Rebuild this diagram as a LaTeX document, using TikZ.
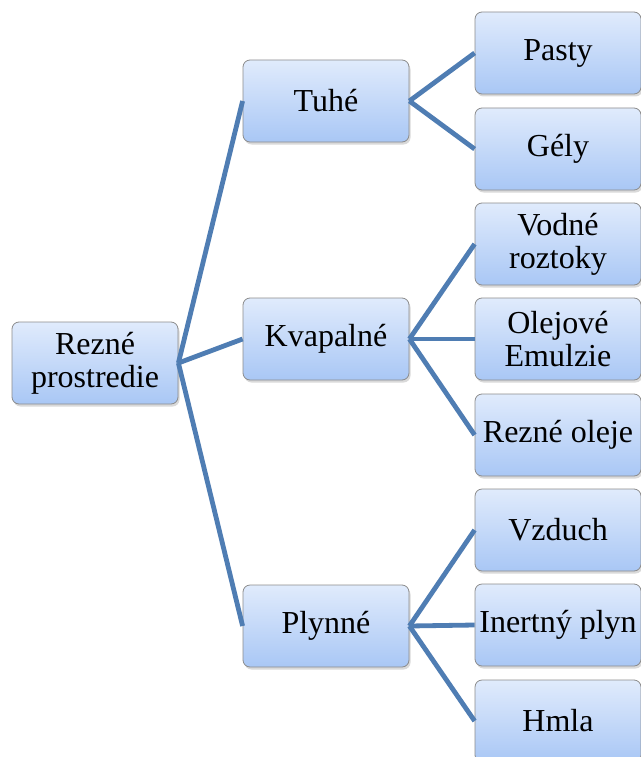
\documentclass[tikz,border=0pt]{standalone}
\usepackage{fontspec}
\setmainfont{Liberation Serif}
\usetikzlibrary{shadows}
\definecolor{boxtop}{HTML}{E0EBFC}
\definecolor{boxbot}{HTML}{A9C7F5}
\definecolor{boxline}{HTML}{8C8C8C}
\definecolor{linkblue}{HTML}{4F7DB3}
\begin{document}
\begin{tikzpicture}[x=1pt, y=-1pt,
  box/.style = {draw=boxline, line width=0.8pt, rounded corners=7pt,
    top color=boxtop, bottom color=boxbot, minimum width=166pt,
    minimum height=82pt, inner sep=2pt, align=center,
    font=\fontsize{32}{33}\selectfont,
    drop shadow={opacity=0.3, shadow xshift=1.5pt, shadow yshift=-2.5pt}},
  link/.style = {draw=linkblue, line width=4.8pt}]
    \useasboundingbox (0,0) rectangle (640,757);
    % root and middle level
    \node[box] (root) at (95,363)  {Rezné\\prostredie};
    \node[box] (tuhe) at (326,101) {Tuhé};
    \node[box] (kvap) at (326,339) {Kvapalné};
    \node[box] (plyn) at (326,626) {Plynné};
    % leaves
    \node[box] (pasty)  at (558,53)  {Pasty};
    \node[box] (gely)   at (558,149) {Gély};
    \node[box] (vodne)  at (558,244) {Vodné\\roztoky};
    \node[box] (olej)   at (558,339) {Olejové\\Emulzie};
    \node[box] (rezne)  at (558,435) {Rezné oleje};
    \node[box] (vzduch) at (558,530) {Vzduch};
    \node[box] (inert)  at (558,625) {Inertný plyn};
    \node[box] (hmla)   at (558,721) {Hmla};

    \foreach \m in {tuhe, kvap, plyn}
        \draw[link] (root.east) -- (\m.west);
    \foreach \l in {pasty, gely}
        \draw[link] (tuhe.east) -- (\l.west);
    \foreach \l in {vodne, olej, rezne}
        \draw[link] (kvap.east) -- (\l.west);
    \foreach \l in {vzduch, inert, hmla}
        \draw[link] (plyn.east) -- (\l.west);
\end{tikzpicture}
\end{document}
